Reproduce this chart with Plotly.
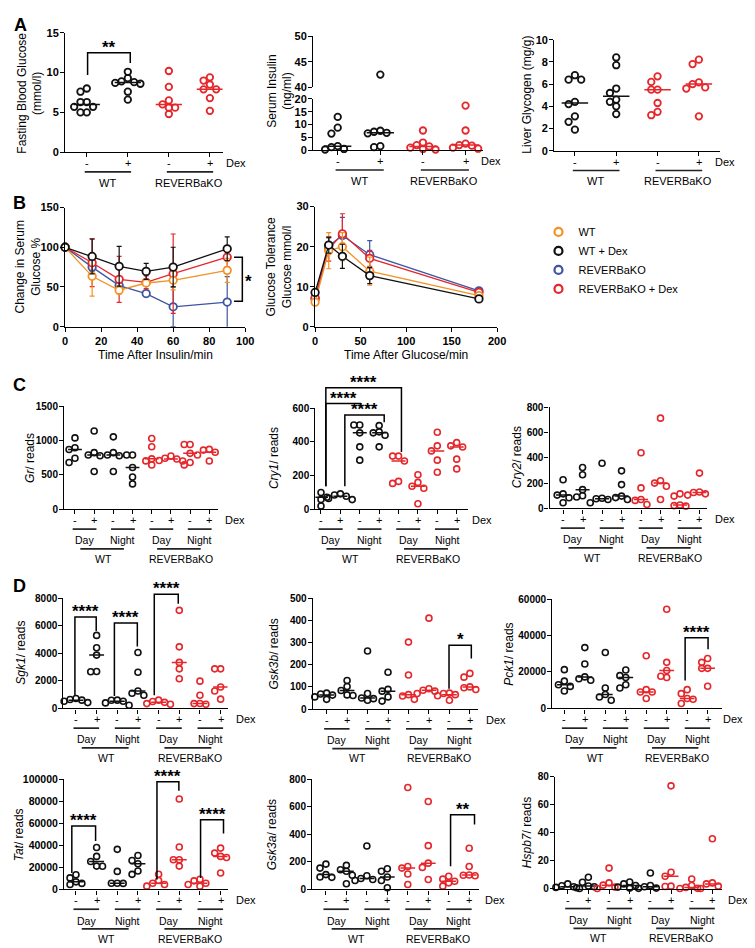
import numpy as np
import plotly.graph_objects as go

W, H = 755, 948
FONT = "Arial, Liberation Sans, sans-serif"
BLACK = "#111111"
RED = "#E5262B"
ORANGE = "#F39224"
BLUE = "#3D54A3"

# ---------------- data ----------------
dex_ticks = ["-", "+"]
genotypes = ["WT", "REVERBaKO"]
times_of_day = ["Day", "Night"]
legend_names = ["WT", "WT + Dex", "REVERBaKO", "REVERBaKO + Dex"]

# Panel A (groups: WT -, WT +, KO -, KO +)
fasting_glucose = [
    [8.0, 7.6, 6.3, 6.3, 5.7, 5.7, 5.0, 5.0],
    [10.1, 9.3, 8.9, 8.8, 8.7, 8.6, 7.6, 6.6],
    [10.2, 8.2, 6.5, 6.0, 5.6, 5.6, 4.8],
    [9.4, 9.0, 8.5, 7.9, 7.9, 6.8, 5.2],
]
serum_insulin = [
    [13.0, 8.8, 6.5, 1.6, 1.2, 0.5, 0.3],
    [42.5, 7.6, 7.2, 6.8, 6.6, 1.6, 1.2],
    [7.7, 3.0, 2.0, 1.5, 1.0, 0.5, 0.3],
    [17.4, 7.7, 2.6, 2.0, 1.8, 1.0, 0.6],
]
liver_glycogen = [
    [6.8, 6.4, 6.4, 4.4, 4.2, 3.1, 2.6, 1.9],
    [8.4, 7.7, 5.6, 5.2, 4.6, 4.4, 4.0, 3.3],
    [6.7, 6.2, 5.5, 5.5, 4.3, 3.5, 3.2],
    [8.2, 7.8, 6.15, 6.0, 5.7, 5.6, 3.1],
]

# Panel B
itt_time = [0, 15, 30, 45, 60, 90]
itt_wt = [100, 63.4, 45.9, 55.0, 58.4, 70.9]
itt_wt_dex = [100, 88.4, 76.0, 69.6, 75.0, 98.0]
itt_ko = [100, 75.0, 51.7, 41.7, 25.0, 31.0]
itt_ko_dex = [100, 80.5, 59.6, 55.9, 66.7, 87.5]
itt_wt_err = [0, 25, 5, 3, 12, 15]
itt_wt_dex_err = [0, 22, 25, 10, 25, 15]
itt_ko_err = [0, 5, 5, 4, 25, 32]
itt_ko_dex_err = [0, 30, 29, 8, 50, 12]

gtt_time = [0, 15, 30, 60, 180]
gtt_wt = [6.2, 19.0, 20.0, 13.9, 7.8]
gtt_wt_dex = [8.6, 20.4, 17.6, 12.8, 7.0]
gtt_ko = [7.0, 20.2, 22.8, 18.0, 9.0]
gtt_ko_dex = [7.3, 19.4, 23.2, 17.1, 8.6]
gtt_wt_err = [0.5, 4.5, 3.5, 3.5, 0.5]
gtt_wt_dex_err = [0.5, 2.0, 3.0, 2.0, 0.5]
gtt_ko_err = [0.5, 2.0, 4.5, 3.5, 0.7]
gtt_ko_dex_err = [0.5, 3.0, 5.0, 2.0, 0.5]

# Panels C/D (groups: WT Day -, WT Day +, WT Night -, WT Night +, KO Day -, KO Day +, KO Night -, KO Night +)
gr_reads = [
    [1040, 897, 870, 743, 681],
    [1140, 825, 790, 780, 550],
    [1055, 825, 790, 780, 550],
    [790, 790, 610, 470, 370],
    [1030, 910, 735, 705, 645],
    [776, 743, 733, 710, 704],
    [944, 944, 815, 681, 647],
    [873, 862, 830, 790, 704],
]
cry1_reads = [
    [100, 78, 72, 58, 20],
    [92, 85, 78, 65, 58],
    [501, 501, 454, 371, 292],
    [497, 460, 454, 440, 371],
    [316, 316, 287, 166, 154],
    [205, 160, 137, 125, 33],
    [458, 377, 347, 292, 220],
    [396, 377, 370, 298, 240],
]
cry2_reads = [
    [227, 115, 105, 84, 45],
    [323, 266, 148, 100, 90],
    [357, 80, 76, 70, 45],
    [297, 188, 97, 85, 70],
    [440, 162, 70, 63, 31],
    [714, 219, 200, 175, 70],
    [115, 97, 27, 22, 18],
    [279, 130, 125, 115, 105],
]
sgk1_reads = [
    [720, 650, 600, 520, 420],
    [5300, 4400, 3870, 2680, 2660],
    [600, 590, 520, 400, 230],
    [4060, 2620, 1260, 1100, 950],
    [600, 500, 440, 350, 300],
    [7120, 4470, 3340, 2870, 2150],
    [1980, 950, 360, 350, 300],
    [2870, 2870, 1550, 1260, 670],
]
gsk3b_reads = [
    [72, 68, 63, 55, 44],
    [129, 102, 84, 64, 61],
    [262, 70, 50, 47, 40],
    [166, 89, 81, 55, 36],
    [302, 154, 65, 59, 44],
    [410, 92, 85, 81, 70],
    [72, 70, 65, 60, 40],
    [161, 144, 100, 96, 88],
]
pck1_reads = [
    [21300, 15000, 13000, 12100, 9540],
    [33400, 24400, 17300, 16300, 15500],
    [30700, 11200, 7600, 6300, 4500],
    [21100, 18000, 17000, 13000, 11200],
    [28900, 10300, 9000, 9000, 5400],
    [54500, 25300, 20800, 17700, 17000],
    [10300, 8100, 5400, 5000, 2700],
    [27400, 25300, 22000, 22000, 12200],
]
tat_reads = [
    [13400, 10500, 6900, 5500, 4500],
    [38000, 30000, 25300, 21200, 21000],
    [36400, 16400, 5700, 5600, 5500],
    [30800, 26300, 23300, 16700, 13700],
    [13800, 8200, 5700, 4500, 3000],
    [82100, 38500, 26900, 26900, 21200],
    [9300, 7800, 5700, 4500, 3000],
    [37500, 33000, 30000, 29000, 15000],
]
gsk3a_reads = [
    [184, 155, 108, 90, 88],
    [175, 143, 132, 103, 41],
    [315, 100, 80, 72, 65],
    [150, 132, 90, 65, 12],
    [740, 167, 155, 112, 36],
    [638, 318, 191, 160, 72],
    [96, 75, 60, 48, 24],
    [299, 167, 105, 103, 100],
]
hspb7_reads = [
    [3.5, 2.2, 1.5, 1.0, 0.2],
    [8.3, 4.7, 2.0, 1.5, 0.7],
    [14.8, 4.2, 2.6, 1.2, 0.2],
    [4.9, 3.5, 2.4, 1.2, 0.5],
    [11.3, 2.4, 1.5, 0.5, 0.3],
    [73.6, 11.8, 9.0, 1.9, 1.6],
    [7.0, 2.4, 1.0, 0.3, 0.2],
    [35.8, 4.2, 3.5, 1.9, 0.2],
]

# ---------------- styles / helpers ----------------
A_COLORS = [BLACK, BLACK, RED, RED]
CD_COLORS = [BLACK] * 4 + [RED] * 4
HSPB7_COLORS = [BLACK, BLACK, RED, BLACK, BLACK, RED, RED, RED]

fig = go.Figure()
layout = {}
shapes = []
annots = []


def ax_names(idx):
    s = "" if idx == 1 else str(idx)
    return "x" + s, "y" + s, "xaxis" + s, "yaxis" + s


def make_panel(idx, L, R_, T, B, yr, yticks, cat0=None, step=None, xr=None,
               xtickvals=None, numeric_x=False, showx=True, yfs=10):
    if cat0 is not None:
        r0, r1 = (L - cat0) / step, (R_ - cat0) / step
    else:
        r0, r1 = xr
    xa, ya, xk, yk = ax_names(idx)
    p = dict(L=L, R=R_, T=T, B=B, y0=yr[0], y1=yr[1], r0=r0, r1=r1, xa=xa, ya=ya)
    layout[xk] = dict(domain=[L / W, R_ / W], range=[r0, r1], anchor=ya, showgrid=False,
                      zeroline=False, showline=showx, visible=showx, linecolor="black",
                      linewidth=1.3, ticks="outside", ticklen=4, tickwidth=1.3,
                      tickcolor="black", tickvals=xtickvals, showticklabels=numeric_x,
                      tickfont=dict(family=FONT, size=11, color="black", weight="bold"),
                      fixedrange=True)
    layout[yk] = dict(domain=[1 - B / H, 1 - T / H], range=list(yr), anchor=xa,
                      showgrid=False, zeroline=False, showline=True, linecolor="black",
                      linewidth=1.3, ticks="outside", ticklen=4, tickwidth=1.3,
                      tickcolor="black", tickvals=yticks, tickformat="d",
                      ticklabelstandoff=-1,
                      tickfont=dict(family=FONT, size=yfs, color="black", weight="bold"),
                      fixedrange=True)
    return p


def X(p, c):
    return (p["L"] + (c - p["r0"]) / (p["r1"] - p["r0"]) * (p["R"] - p["L"])) / W


def Y(p, v):
    py = p["B"] - (v - p["y0"]) / (p["y1"] - p["y0"]) * (p["B"] - p["T"])
    return 1 - py / H


def PY(py):
    return 1 - py / H


def swarm(vals, p, d=7.5):
    vals = np.asarray(vals, float)
    ppy = (p["B"] - p["T"]) / (p["y1"] - p["y0"])
    ppx = (p["R"] - p["L"]) / (p["r1"] - p["r0"])
    step, thr = 0.8 * d, 0.8 * d
    placed = []
    off = np.zeros(len(vals))
    for k in np.argsort(-vals):
        yv = vals[k] * ppy
        xv = 0.0
        for c in (0, -1, 1, -2, 2, -3, 3):
            xv = c * step
            if all(np.hypot(xv - a, yv - b) >= thr for a, b in placed):
                break
        placed.append((xv, yv))
        off[k] = xv / ppx
    return off


def add_dots(p, i, vals, color, size, lw, d):
    if len(vals) == 0:
        return
    vals = np.asarray(vals, float)
    off = swarm(vals, p, d)
    fig.add_trace(go.Scatter(x=i + off, y=vals, mode="markers",
                             marker=dict(symbol="circle-open", size=size, color=color,
                                         line=dict(width=lw)),
                             cliponaxis=False, showlegend=False, hoverinfo="skip",
                             xaxis=p["xa"], yaxis=p["ya"]))


def add_median(p, i, vals, color, hw):
    med = float(np.median(vals))
    fig.add_trace(go.Scatter(x=[i - hw, i + hw], y=[med, med], mode="lines",
                             line=dict(color=color, width=1.5), cliponaxis=False,
                             showlegend=False, hoverinfo="skip",
                             xaxis=p["xa"], yaxis=p["ya"]))


def dot_panel(p, groups, colors, size=6.0, lw=1.6, hw=0.36, d=7.5):
    for i, (vals, c) in enumerate(zip(groups, colors)):
        add_dots(p, i, vals, c, size, lw, d)
        add_median(p, i, vals, c, hw)


def text(xp, yp, s, size=10.5, xanchor="center", yanchor="middle", angle=0):
    annots.append(dict(x=xp, y=yp, xref="paper", yref="paper", text=s, showarrow=False,
                       xanchor=xanchor, yanchor=yanchor, textangle=angle,
                       font=dict(family=FONT, size=size, color="black")))


def hline(x0, x1, yp, w=1.7):
    shapes.append(dict(type="line", xref="paper", yref="paper", x0=x0, x1=x1, y0=yp, y1=yp,
                       line=dict(color="#222222", width=w)))


def bracket(p, xa, xb, ytop, ya, yb, label, fs=17):
    x0, x1 = X(p, xa), X(p, xb)
    yt = Y(p, ytop)
    path = f"M {x0},{Y(p, ya)} L {x0},{yt} L {x1},{yt} L {x1},{Y(p, yb)}"
    shapes.append(dict(type="path", path=path, xref="paper", yref="paper",
                       line=dict(color="black", width=1.5)))
    annots.append(dict(x=(x0 + x1) / 2, y=yt, xref="paper", yref="paper",
                       text=f"<b>{label}</b>", showarrow=False, xanchor="center",
                       yanchor="bottom", yshift=-6,
                       font=dict(family=FONT, size=fs, color="black")))


def dex_labels(p, n):
    B = p["B"]
    for i in range(n):
        text(X(p, i), PY(B + 11), dex_ticks[i % 2], size=11)
    text(X(p, n - 1) + 14 / W, PY(B + 11), "Dex", xanchor="left", size=11)


def labels_A(p):
    B = p["B"]
    dex_labels(p, 4)
    for i, g in zip((0, 2), genotypes):
        hline(X(p, i - 0.05), X(p, i + 1.08), PY(B + 20))
        text(X(p, i + 0.5), PY(B + 31), g, size=11)


def labels_CD(p):
    B = p["B"]
    dex_labels(p, 8)
    for j in range(4):
        i = 2 * j
        hline(X(p, i - 0.12), X(p, i + 1.12), PY(B + 20))
        text(X(p, i + 0.5), PY(B + 31.5), times_of_day[j % 2])
    for i0, g in zip((0, 4), genotypes):
        hline(X(p, i0 + 0.28), X(p, i0 + 2.55), PY(B + 40))
        text(X(p, i0 + 1.5), PY(B + 50), g)


cat4 = dict(xtickvals=[0, 1, 2, 3])
cat8 = dict(xtickvals=list(range(8)))

# ---------------- Panel A ----------------
pA1 = make_panel(1, 55, 215, 19, 140, (0, 15), [0, 5, 10, 15], cat0=77, step=41.7, yfs=11, **cat4)
dot_panel(pA1, fasting_glucose, A_COLORS, size=6.5, lw=1.8, hw=0.32, d=8)
labels_A(pA1)
bracket(pA1, 0.02, 1.06, 12.5, 9.7, 11.2, "**")

pA2 = make_panel(2, 307, 480, 86, 138, (0, 20), [0, 5, 10, 15, 20], cat0=332, step=43.3, yfs=11, **cat4)
pA2h = make_panel(3, 307, 480, 22.7, 74.3, (40, 50), [40, 45, 50], cat0=332, step=43.3,
                  showx=False, yfs=11, **cat4)
for i, (vals, c) in enumerate(zip(serum_insulin, A_COLORS)):
    add_dots(pA2, i, [v for v in vals if v <= 20], c, 6.5, 1.8, 8)
    add_dots(pA2h, i, [v for v in vals if v > 20], c, 6.5, 1.8, 8)
    add_median(pA2, i, vals, c, 0.32)
labels_A(pA2)

pA3 = make_panel(4, 552, 720, 26, 138.5, (0, 10), [0, 2, 4, 6, 8, 10], cat0=573, step=42, yfs=11, **cat4)
dot_panel(pA3, liver_glycogen, A_COLORS, size=6.5, lw=1.8, hw=0.32, d=8)
labels_A(pA3)

# ---------------- Panel B ----------------
pB1 = make_panel(5, 55, 238, 196, 316.7, (0, 150), [0, 50, 100, 150], xr=(0, 100),
                 xtickvals=[0, 20, 40, 60, 80, 100], numeric_x=True, yfs=11)
pB2 = make_panel(6, 309, 494, 195, 317, (0, 30), [0, 10, 20, 30], xr=(0, 200),
                 xtickvals=[0, 50, 100, 150, 200], numeric_x=True, yfs=11)

itt_series = [(itt_ko, itt_ko_err, BLUE), (itt_ko_dex, itt_ko_dex_err, RED),
              (itt_wt, itt_wt_err, ORANGE), (itt_wt_dex, itt_wt_dex_err, BLACK)]
gtt_series = [(gtt_ko, gtt_ko_err, BLUE), (gtt_ko_dex, gtt_ko_dex_err, RED),
              (gtt_wt, gtt_wt_err, ORANGE), (gtt_wt_dex, gtt_wt_dex_err, BLACK)]
for p, tms, series in ((pB1, itt_time, itt_series), (pB2, gtt_time, gtt_series)):
    for vals, err, c in series:
        fig.add_trace(go.Scatter(
            x=tms, y=vals, mode="lines+markers", line=dict(color=c, width=1.3),
            marker=dict(symbol="circle", size=7.5, color="white", line=dict(color=c, width=1.8)),
            error_y=dict(type="data", array=err, visible=True, color=c, thickness=1.2, width=2.5),
            cliponaxis=False, showlegend=False, hoverinfo="skip",
            xaxis=p["xa"], yaxis=p["ya"]))

for name, c in zip(legend_names, [ORANGE, BLACK, BLUE, RED]):
    fig.add_trace(go.Scatter(x=[None], y=[None], mode="markers", name=name,
                             marker=dict(symbol="circle-open", size=8, color=c, line=dict(width=2.2)),
                             showlegend=True, xaxis=pB1["xa"], yaxis=pB1["ya"]))

# significance bracket on ITT
bx0, bx1 = X(pB1, 93.8), X(pB1, 98.4)
shapes.append(dict(type="path", xref="paper", yref="paper", line=dict(color="black", width=1.5),
                   path=f"M {bx0},{Y(pB1, 87.5)} L {bx1},{Y(pB1, 87.5)} L {bx1},{Y(pB1, 32)} L {bx0},{Y(pB1, 32)}"))
text(X(pB1, 101.6), Y(pB1, 57), "<b>*</b>", size=17)

text((pB1["L"] + pB1["R"]) / 2 / W, PY(345), "Time After Insulin/min", size=12)
text((pB2["L"] + pB2["R"]) / 2 / W, PY(345), "Time After Glucose/min", size=12)

# ---------------- Panel C ----------------
pC1 = make_panel(7, 54, 210, 397.3, 501.7, (0, 1500), [0, 500, 1000, 1500], cat0=65, step=19.5, **cat8)
dot_panel(pC1, gr_reads, CD_COLORS)
labels_CD(pC1)

pC2 = make_panel(8, 309.3, 464, 399.3, 501.7, (0, 600), [0, 200, 400, 600], cat0=315, step=19.7, **cat8)
dot_panel(pC2, cry1_reads, CD_COLORS)
labels_CD(pC2)
bracket(pC2, 0.25, 4.15, 722, 137, 341, "****")
bracket(pC2, 0.25, 2.03, 628, 137, 610, "****")
bracket(pC2, 1.23, 3.26, 560, 137, 517, "****")

pC3 = make_panel(9, 547.3, 707, 398.3, 500.7, (0, 800), [0, 200, 400, 600, 800], cat0=561, step=19.8, **cat8)
dot_panel(pC3, cry2_reads, CD_COLORS)
labels_CD(pC3)

# ---------------- Panel D ----------------
pD1 = make_panel(10, 53.3, 220, 591.7, 703.3, (0, 8000), [0, 2000, 4000, 6000, 8000], cat0=66, step=21, **cat8)
dot_panel(pD1, sgk1_reads, CD_COLORS)
labels_CD(pD1)
bracket(pD1, -0.05, 0.98, 6638, 953, 5613, "****")
bracket(pD1, 1.86, 2.97, 6208, 903, 4487, "****")
bracket(pD1, 3.79, 4.95, 8287, 953, 7600, "****")

pD2 = make_panel(11, 306.7, 475, 591.7, 704, (0, 500), [0, 100, 200, 300, 400, 500], cat0=320.7, step=20.8, **cat8)
dot_panel(pD2, gsk3b_reads, CD_COLORS)
labels_CD(pD2)
bracket(pD2, 5.98, 7.07, 288, 92, 228, "*")

pD3 = make_panel(12, 550, 722, 592.7, 703.3, (0, 60000), [0, 20000, 40000, 60000], cat0=562.3, step=20.8, **cat8)
dot_panel(pD3, pck1_reads, CD_COLORS)
labels_CD(pD3)
bracket(pD3, 5.9, 7.02, 38800, 15340, 32520, "****")

pD4 = make_panel(13, 54, 220, 775, 886.7, (0, 100000), [0, 20000, 40000, 60000, 80000, 100000],
                 cat0=66, step=21, yfs=10.5, **cat8)
dot_panel(pD4, tat_reads, CD_COLORS)
labels_CD(pD4)
bracket(pD4, -0.2, 0.95, 57650, 14950, 43870, "****")
bracket(pD4, 3.92, 4.98, 97580, 8950, 89500, "****")
bracket(pD4, 6.03, 7.14, 63300, 10470, 50760, "****")

pD5 = make_panel(14, 306, 476, 775, 886.7, (0, 800), [0, 200, 400, 600, 800], cat0=320, step=20.8, **cat8)
dot_panel(pD5, gsk3a_reads, CD_COLORS)
labels_CD(pD5)
bracket(pD5, 6.09, 7.26, 542, 168, 471, "**")

pD6 = make_panel(15, 552.7, 722, 772.7, 886, (0, 80), [0, 20, 40, 60, 80], cat0=565.7, step=21, **cat8)
dot_panel(pD6, hspb7_reads, HSPB7_COLORS)
labels_CD(pD6)

# ---------------- axis titles & panel letters ----------------
ytitles = [
    (19, 80, "Fasting Blood Glucose<br>(mmol/l)"),
    (273, 78, "Serum Insulin<br>(ng/ml)"),
    (524, 82, "Liver Glycogen (mg/g)"),
    (17, 256, "Change in Serum<br>Glucose %"),
    (272, 256, "Glucose Tolerance<br>Glucose mmol/l"),
    (20, 450, "<i>Gr</i>/ reads"),
    (268, 450, "<i>Cry1</i>/ reads"),
    (514, 449, "<i>Cry2</i>/ reads"),
    (10, 647, "<i>Sgk1</i>/ reads"),
    (267, 648, "<i>Gsk3b</i>/ reads"),
    (506, 648, "<i>Pck1</i>/ reads"),
    (9, 831, "<i>Tat</i>/ reads"),
    (266, 831, "<i>Gsk3a</i>/ reads"),
    (524, 829, "<i>Hspb7</i>/ reads"),
]
for xp, yp, s in ytitles:
    text(xp / W, PY(yp), s, size=12, angle=-90)

for xp, yp, s in [(10, 11, "A"), (9, 191, "B"), (9, 376, "C"), (9, 579, "D")]:
    text(xp / W, PY(yp), f"<b>{s}</b>", size=18)

fig.update_layout(
    width=W, height=H, margin=dict(l=0, r=0, t=0, b=0),
    paper_bgcolor="white", plot_bgcolor="white",
    font=dict(family=FONT, size=11, color="black"),
    showlegend=True,
    legend=dict(x=536 / W, y=PY(206), xanchor="left", yanchor="top",
                font=dict(family=FONT, size=11, color="black"),
                bgcolor="rgba(0,0,0,0)", itemwidth=30, tracegroupgap=0),
    shapes=shapes, annotations=annots,
    **layout,
)

fig.write_html("out.html")
